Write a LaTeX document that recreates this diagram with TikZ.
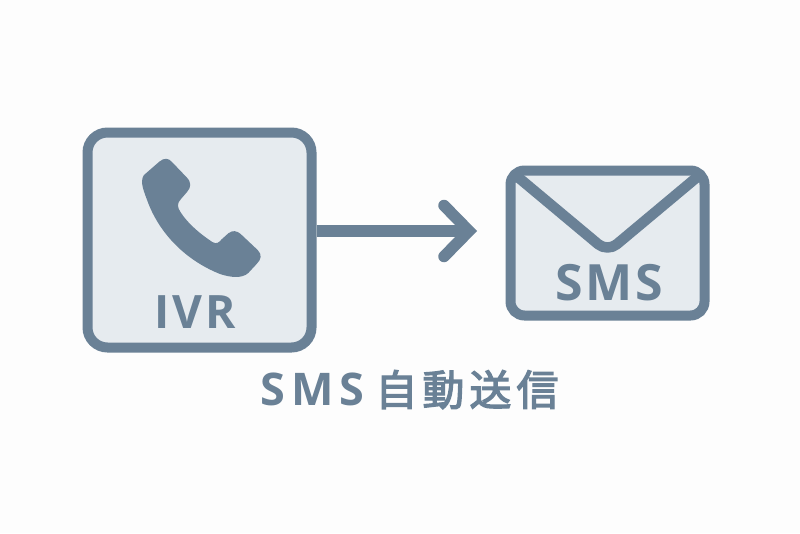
\documentclass[tikz,border=0pt]{standalone}
\usepackage{fontspec}
\setmainfont{Open Sans}
\newfontfamily\latfont[LetterSpace=13]{Open Sans}
\newfontfamily\cjkfont[LetterSpace=12,FakeBold=3]{Noto Sans CJK JP}
\newfontfamily\iconfont[LetterSpace=6]{Open Sans}
\newfontfamily\envfont[LetterSpace=5]{Open Sans}
\definecolor{slate}{HTML}{6A8196}
\definecolor{panel}{HTML}{E6EBEF}
\definecolor{paper}{HTML}{FDFDFD}
\tikzset{
  framebox/.style={draw=slate,fill=panel,line width=10pt,rounded corners=#1,inner sep=0pt,minimum width=0pt},
  flow/.style={draw=slate,line width=11.5pt},
  ink/.style={text=slate,inner sep=0pt,anchor=base}
}
\begin{document}
\begin{tikzpicture}[x=1pt,y=-1pt]
\useasboundingbox (0,0) rectangle (800,533);
\fill[paper] (0,0) rectangle (800,533);
% IVR box
\node[framebox=20pt,minimum width=224pt,minimum height=215pt] (ivr) at (199.5,240) {};
% phone handset
\fill[slate,shift={(70,120)},x=0.3333pt,y=-0.3333pt]
 (222,165) -- (268,125) .. controls (283,112) and (296,115) .. (305,125)
 -- (350,172) .. controls (365,187) and (363,202) .. (352,215)
 -- (333,237) .. controls (320,250) and (322,262) .. (332,277)
 .. controls (355,313) and (395,345) .. (427,366)
 .. controls (440,374) and (447,367) .. (455,358)
 -- (475,340) .. controls (488,330) and (500,332) .. (512,342)
 -- (563,390) .. controls (577,404) and (574,418) .. (560,432)
 -- (535,459) .. controls (515,477) and (480,472) .. (450,462)
 .. controls (345,420) and (270,340) .. (235,250)
 .. controls (222,215) and (208,185) .. (222,165) -- cycle;
\node[ink,font=\iconfont\bfseries\fontsize{46}{46}\selectfont] (ivrlabel) at (195,328) {IVR};
% envelope
\node[framebox=14pt,minimum width=194pt,minimum height=145pt] (env) at (607.5,243) {};
\coordinate (flapL) at (513,173);
\coordinate (flapM) at (607.5,252);
\coordinate (flapR) at (702,173);
\draw[slate,line width=10.5pt,line join=round,rounded corners=12pt] (flapL) -- (flapM) -- (flapR);
\node[ink,font=\envfont\bfseries\fontsize{50}{50}\selectfont,text=slate] (smslabel) at (609.5,300) {SMS};
% arrow
\coordinate (tip) at (469,231);
\coordinate (barbA) at (444,205.5);
\coordinate (barbB) at (444,256.5);
\draw[flow] (ivr.east |- tip) -- (tip);
\draw[flow,line cap=round,line join=miter] (barbA) -- (tip) -- (barbB);
% caption
\node[ink,anchor=base west] (caption) at (260.5,405.5) {\latfont\bfseries\fontsize{45}{45}\selectfont SMS\hspace{11pt}\cjkfont\mdseries\fontsize{42}{42}\selectfont 自動送信};
\end{tikzpicture}
\end{document}
